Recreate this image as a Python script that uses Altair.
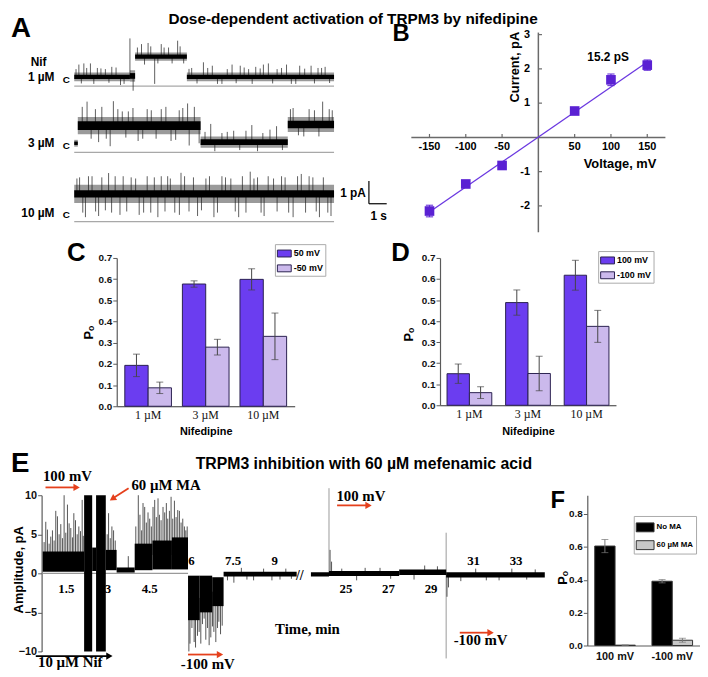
import altair as alt
import pandas as pd

SANS = "Liberation Sans"
SERIF = "Liberation Serif"
DARK = "#6b3df0"
LIGHT = "#cbb9ec"
EDGE = "#2b2150"
PTS = "#5a21d3"
RED = "#e5401c"
AXC = "#5a5a5a"
RECT = "M-1,-0.5L1,-0.5L1,0.5L-1,0.5Z"

# ===================== DATA =====================
# Panel A: single-channel traces (time s, current pA relative to closed level C)
nif_labels = ["1 µM", "3 µM", "10 µM"]

a1_t0 = [0.0, 3.13, 3.42, 6.33]
a1_t1 = [3.13, 3.42, 6.33, 14.6]
a1_lo = [-0.18, -0.20, 0.72, -0.18]
a1_hi = [0.20, 0.30, 1.08, 0.20]
a1_spk_t = [0.26, 0.54, 0.91, 1.30, 1.75, 2.11, 2.60, 3.13, 3.31, 3.78, 4.15, 4.52, 4.89, 5.30, 5.81, 6.60,
            7.26, 7.76, 8.30, 8.87, 9.33, 9.80, 10.20, 10.63, 10.91, 11.40, 11.93, 12.20, 12.67, 13.31, 13.70, 14.10,
            0.10, 0.40, 0.70, 1.10, 1.50, 1.95, 2.35, 2.80, 6.45, 6.90, 7.50, 8.05, 8.60, 9.10, 9.55, 10.00,
            10.45, 11.15, 11.65, 12.45, 12.95, 13.50, 13.90, 14.35,
            3.55, 3.95, 4.30, 4.70, 5.05, 5.50, 5.95, 6.15]
a1_spk_v = [0.55, 0.60, 0.60, 0.40, 0.35, 0.45, -0.35, 1.70, -0.60, 1.45, 1.50, -0.30, 1.45, 1.30, 1.60, 0.40,
            0.65, 0.50, -0.30, 0.55, 0.50, 0.35, 0.45, 0.55, 0.60, 0.35, 0.55, -0.30, 0.50, 0.50, 0.40, 0.45,
            0.35, -0.28, 0.40, -0.30, 0.38, -0.25, 0.42, -0.30, 0.36, -0.28, 0.40, -0.30, 0.35, -0.27, 0.42, -0.30,
            0.38, -0.28, 0.40, -0.30, 0.37, -0.28, 0.40, -0.26,
            1.30, 0.55, 1.35, 0.60, 1.30, 0.60, 1.35, 0.60]

a2_t0 = [0.0, 0.2, 7.1, 12.0]
a2_t1 = [0.2, 7.1, 12.0, 14.6]
a2_lo = [-0.15, 0.40, -0.20, 0.50]
a2_hi = [0.15, 1.15, 0.30, 1.15]
a2_spk_t = [0.72, 1.19, 1.37, 2.02, 2.20, 2.70, 3.04, 3.59, 4.33, 4.89, 5.44, 5.90, 6.37, 6.46, 7.02, 7.67,
            8.30, 8.96, 9.98, 10.60, 11.37, 12.30, 12.90, 13.50, 13.96, 14.33,
            0.45, 0.95, 1.55, 1.80, 2.45, 2.90, 3.30, 3.85, 4.10, 4.60, 5.15, 5.70, 6.10, 6.75,
            7.35, 7.90, 8.60, 9.30, 9.65, 10.30, 11.00, 11.70, 12.15, 12.60, 13.20, 13.75, 14.50]
a2_spk_v = [1.83, 1.50, 0.05, -0.13, 1.85, 1.40, 1.40, 0.10, 1.45, 1.50, 0.10, 1.45, 1.75, -0.10, 0.00, 0.85,
            0.45, 0.55, 0.80, 0.45, 0.75, 1.55, 0.30, 1.45, 1.83, 1.50,
            1.60, 0.20, 1.60, 0.20, 1.50, 0.25, 1.55, 0.20, 1.50, 0.20, 1.60, 0.15, 1.55, 1.60,
            0.50, -0.35, 0.50, -0.30, 0.55, -0.35, 0.60, -0.30, 1.50, 0.35, 1.50, 0.30, 1.45]

a3_t0 = [0.0]
a3_t1 = [14.6]
a3_lo = [0.42]
a3_hi = [1.22]
a3_spk_t = [0.30, 0.63, 1.00, 1.37, 1.93, 2.30, 2.57, 3.20, 3.90, 4.70, 4.89, 5.40, 5.91, 6.00, 6.93, 7.40,
            7.85, 8.30, 8.80, 9.24, 9.89, 10.30, 10.67, 11.20, 11.65, 12.30, 12.76, 13.41, 13.78, 14.43,
            0.15, 0.48, 0.80, 1.20, 1.55, 1.75, 2.10, 2.75, 2.95, 3.45, 3.65, 4.10, 4.30, 4.50, 5.10, 5.25,
            5.65, 6.20, 6.45, 6.70, 7.15, 7.60, 8.05, 8.50, 9.05, 9.45, 9.65, 10.10, 10.50, 10.90, 11.40,
            11.85, 12.05, 12.55, 13.00, 13.20, 13.60, 14.00, 14.25]
a3_spk_v = [1.55, -0.20, 1.60, -0.15, 1.74, 1.60, -0.10, 1.55, 0.00, -0.20, 1.60, 1.50, -0.10, 1.75, -0.15, 1.50,
            -0.20, 1.60, 1.50, -0.20, 1.80, 1.55, -0.15, 1.50, 1.60, -0.20, 1.70, 1.55, -0.20, -0.15,
            1.50, 0.00, 1.60, 0.05, 1.55, 0.10, 0.00, 1.60, 0.05, 1.50, -0.10, 1.60, 0.00, 1.55, 0.05, 1.60,
            0.00, 1.60, 0.05, 1.55, 0.10, 1.60, 0.00, 1.55, 0.05, 1.60, 0.00, 1.50, 0.00, 1.60, 0.05,
            1.55, 0.00, 1.60, 0.00, 1.60, 0.05, 1.55, 0.00]

# Panel B: I-V relation
b_volt = [-150, -100, -50, 50, 100, 150]
b_curr = [-2.15, -1.36, -0.82, 0.77, 1.68, 2.11]
b_err = [0.17, 0.05, 0.05, 0.04, 0.17, 0.15]
b_fit_v = [-150, 150]
b_fit_i = [-2.18, 2.20]
b_xticks = [-150, -100, -50, 50, 100, 150]
b_yticks = [-2, -1, 1, 2, 3]

# Panels C, D: open probability
conc = ["1 µM", "3 µM", "10 µM"]
c_series = ["50 mV", "-50 mV"]
c_po_pos = [0.193, 0.577, 0.599]
c_err_pos = [0.053, 0.015, 0.050]
c_po_neg = [0.087, 0.279, 0.330]
c_err_neg = [0.027, 0.037, 0.110]
d_series = ["100 mV", "-100 mV"]
d_po_pos = [0.150, 0.488, 0.618]
d_err_pos = [0.046, 0.060, 0.071]
d_po_neg = [0.060, 0.151, 0.375]
d_err_neg = [0.028, 0.082, 0.076]
po_ticks = [0.0, 0.1, 0.2, 0.3, 0.4, 0.5, 0.6, 0.7]

# Panel E: macroscopic recording (time min, amplitude pA)
e1_t0 = [0.65, 2.14, 2.43, 2.57, 2.92, 3.31, 3.96, 4.60, 5.30, 5.88, 6.30, 6.75, 7.16]
e1_t1 = [2.14, 2.43, 2.57, 2.92, 3.31, 3.96, 4.60, 5.30, 5.88, 6.30, 6.75, 7.16, 9.79]
e1_lo = [0.2, -10.0, 0.3, -10.0, 0.4, 0.1, 0.4, 0.5, 0.5, -6.0, -5.0, -4.2, -0.42]
e1_hi = [2.8, 10.0, 3.3, 10.0, 3.0, 0.75, 3.8, 4.2, 4.6, -0.3, -0.3, -0.5, 0.2]
e1_spk_t = [0.82, 0.94, 1.18, 1.30, 1.42, 1.60, 1.77, 1.95, 2.07, 3.02, 3.14, 3.73, 4.09, 4.32, 4.50, 4.68,
            4.85, 4.98, 5.15, 5.27, 5.51, 5.75, 5.91, 6.10, 6.28, 6.46, 6.64, 6.81, 6.99, 7.11, 7.53, 8.24, 9.19,
            0.70, 0.76, 0.88, 1.00, 1.06, 1.12, 1.24, 1.36, 1.48, 1.54, 1.66, 1.72, 1.83, 1.89, 2.01, 2.11,
            2.97, 3.08, 3.20, 3.26,
            4.00, 4.15, 4.21, 4.26, 4.38, 4.44, 4.56, 4.62, 4.74, 4.80, 4.91, 5.04, 5.10, 5.21, 5.33, 5.39,
            5.45, 5.57, 5.63, 5.69, 5.80, 5.85,
            5.95, 6.02, 6.15, 6.22, 6.34, 6.40, 6.52, 6.58, 6.70, 6.76, 6.88, 6.94, 7.05,
            7.30, 7.80, 8.00, 8.60, 8.90, 9.40, 9.60]
e1_spk_v = [5.6, 4.7, 7.3, 6.3, 10.0, 6.4, 7.7, 6.0, 9.4, 7.7, 6.0, 2.2, 10.0, 8.5, 7.0, 9.4,
            7.5, 8.5, 7.0, 9.8, 8.1, 6.0, -10.0, -8.8, -7.5, -5.8, -9.2, -7.5, -6.2, -6.7, -1.2, -0.9, -0.8,
            4.0, 6.6, 3.8, 5.5, 4.2, 8.0, 5.0, 4.5, 5.2, 8.8, 5.8, 4.6, 6.8, 5.0, 5.4, 4.8,
            5.0, 4.5, 5.5, 4.2,
            6.0, 7.5, 5.5, 9.0, 6.5, 7.8, 6.0, 8.5, 7.2, 9.6, 6.8, 7.8, 9.0, 8.0, 7.0, 9.3,
            7.2, 8.0, 6.5, 7.0, 5.5, 6.0,
            -9.0, -7.0, -9.5, -8.0, -9.0, -6.5, -8.5, -7.0, -8.2, -6.8, -8.8, -7.0, -7.8,
            -0.9, 0.7, -0.8, 0.6, -0.9, 0.6, -0.7]
e1_time_labels = [1.5, 3, 4.5, 6, 7.5, 9]

e2_t0 = [23.35, 24.20, 27.50, 29.71]
e2_t1 = [24.20, 27.50, 29.71, 34.35]
e2_lo = [-0.40, -0.35, -0.20, -0.55]
e2_hi = [0.15, 0.30, 0.50, 0.15]
e2_tr_t = [24.20, 29.71]
e2_tr_lo = [0.0, -10.9]
e2_tr_hi = [10.9, 5.2]
e2_spk_t = [24.25, 24.32, 25.50, 26.60, 28.20, 29.30, 29.75, 29.82, 31.60, 32.80, 33.50,
            24.80, 25.90, 27.10, 28.70, 30.40, 31.10, 32.20, 33.90]
e2_spk_v = [3.0, 1.5, -0.9, 0.7, -0.8, 0.9, -3.0, -1.8, -0.9, 0.6, -0.8,
            0.6, 0.7, -0.7, 1.0, -1.0, 0.6, -0.9, 0.5]
e2_time_labels = [25, 27, 29, 31, 33]
amp_ticks = [-10, -5, 0, 5, 10]

# Panel F
f_groups = ["100 mV", "-100 mV"]
f_series = ["No MA", "60 µM MA"]
f_po_no = [0.605, 0.391]
f_err_no = [0.040, 0.010]
f_po_ma = [0.002, 0.032]
f_err_ma = [0.0, 0.012]
f_ticks = [0.0, 0.2, 0.4, 0.6, 0.8]


# ===================== HELPERS =====================
def qx(f, sc):
    return alt.X(f, type="quantitative", scale=sc, axis=None)


def qy(f, sc, axis=None):
    return alt.Y(f, type="quantitative", scale=sc, axis=axis)


def seg_df(t0, t1, lo, hi, off=0.0, core=0.5):
    df = pd.DataFrame({"t0": t0, "t1": t1, "lo": lo, "hi": hi})
    df["lo"] = df["lo"] + off
    df["hi"] = df["hi"] + off
    mid = (df["lo"] + df["hi"]) / 2
    half = (df["hi"] - df["lo"]) / 2
    df["clo"] = mid - core * half
    df["chi"] = mid + core * half
    return df


def spike_df(ts, vs, t0, t1, lo, hi, off=0.0):
    base = []
    for t in ts:
        b = 0.0
        for a, c, l, h in zip(t0, t1, lo, hi):
            if a <= t <= c:
                b = (l + h) / 2
                break
        base.append(b + off)
    return pd.DataFrame({"t": ts, "base": base, "tip": [v + off for v in vs]})


def text_layer(rows, xs, ys, yaxis=None, **kw):
    df = pd.DataFrame(rows, columns=["x", "y", "s"])
    return alt.Chart(df).mark_text(**kw).encode(x=qx("x", xs), y=qy("y", ys, yaxis), text="s:N")


def rule_layer(rows, xs, ys, yaxis=None, **kw):
    df = pd.DataFrame(rows, columns=["x0", "x1", "y0", "y1"])
    return alt.Chart(df).mark_rule(**kw).encode(x=qx("x0", xs), x2="x1", y=qy("y0", ys, yaxis), y2="y1")


def head_layer(rows, xs, ys, yaxis=None, shape="triangle-right", color=RED, angle=0, size=55):
    df = pd.DataFrame(rows, columns=["x", "y"])
    return alt.Chart(df).mark_point(shape=shape, filled=True, color=color, size=size, opacity=1,
                                    angle=angle).encode(x=qx("x", xs), y=qy("y", ys, yaxis))


def spacer(w, h):
    return alt.Chart(pd.DataFrame({"s": [0]})).mark_point(opacity=0).encode(
        x=alt.value(0), y=alt.value(0)).properties(width=w, height=h)


# ===================== PANEL A =====================
A_OFF = [0.0, -2.91, -5.96]
xA = alt.Scale(domain=[-3.556, 18.222], nice=False, zero=False)
yA = alt.Scale(domain=[-6.52, 1.957], nice=False, zero=False)

segA = pd.concat([
    seg_df(a1_t0, a1_t1, a1_lo, a1_hi, A_OFF[0]),
    seg_df(a2_t0, a2_t1, a2_lo, a2_hi, A_OFF[1]),
    seg_df(a3_t0, a3_t1, a3_lo, a3_hi, A_OFF[2], core=0.4),
])
spkA = pd.concat([
    spike_df(a1_spk_t, a1_spk_v, a1_t0, a1_t1, a1_lo, a1_hi, A_OFF[0]),
    spike_df(a2_spk_t, a2_spk_v, a2_t0, a2_t1, a2_lo, a2_hi, A_OFF[1]),
    spike_df(a3_spk_t, a3_spk_v, a3_t0, a3_t1, a3_lo, a3_hi, A_OFF[2]),
])
baseA = pd.DataFrame({"t0": [0.0] * 3, "t1": [14.6] * 3, "y": [o - 0.4 for o in A_OFF]})

chartA = alt.layer(
    alt.Chart(baseA).mark_rule(color="#a8a8a8", strokeWidth=1.2).encode(
        x=qx("t0", xA), x2="t1", y=qy("y", yA)),
    alt.Chart(segA).mark_rect(color="#9a9a9a").encode(x=qx("t0", xA), x2="t1", y=qy("lo", yA), y2="hi"),
    alt.Chart(spkA).mark_rule(color="#1a1a1a", strokeWidth=0.7).encode(
        x=qx("t", xA), y=qy("base", yA), y2="tip"),
    alt.Chart(segA).mark_rect(color="#000000").encode(x=qx("t0", xA), x2="t1", y=qy("clo", yA), y2="chi"),
    text_layer([[-1.11, o, s] for o, s in zip(A_OFF, nif_labels)], xA, yA,
               font=SANS, fontWeight="bold", fontSize=12, align="right", baseline="middle"),
    text_layer([[-2.0, 0.65, "Nif"]], xA, yA, font=SANS, fontWeight="bold", fontSize=12,
               align="center", baseline="middle"),
    text_layer([[-0.44, o - 0.12, "C"] for o in A_OFF], xA, yA, font=SANS, fontWeight="bold",
               fontSize=10, align="center", baseline="middle"),
    rule_layer([[16.56, 16.56, -5.57, -4.57], [16.56, 17.56, -5.57, -5.57]], xA, yA,
               color="#000", strokeWidth=1.2),
    text_layer([[16.39, -5.09, "1 pA"]], xA, yA, font=SANS, fontWeight="bold", fontSize=12,
               align="right", baseline="middle"),
    text_layer([[17.11, -6.09, "1 s"]], xA, yA, font=SANS, fontWeight="bold", fontSize=12,
               align="center", baseline="middle"),
    text_layer([[-3.556, 2.09, "A"]], xA, yA, font=SANS, fontWeight="bold", fontSize=28,
               align="left", baseline="middle"),
    text_layer([[15.67, 2.565, "Dose-dependent activation of TRPM3 by nifedipine"]], xA, yA,
               font=SANS, fontWeight="bold", fontSize=15.5, align="center", baseline="middle"),
).properties(width=392, height=195)

# ===================== PANEL B =====================
xB = alt.Scale(domain=[-175, 175], nice=False, zero=False)
yB = alt.Scale(domain=[-2.77, 3.06], nice=False, zero=False)
dfB = pd.DataFrame({"v": b_volt, "i": b_curr, "e": b_err})
dfB["lo"] = dfB["i"] - dfB["e"]
dfB["hi"] = dfB["i"] + dfB["e"]
dfB["c0"] = dfB["v"] - 5
dfB["c1"] = dfB["v"] + 5
dfFit = pd.DataFrame({"v": b_fit_v, "i": b_fit_i})

chartB = alt.layer(
    rule_layer([[-175, 175, 0, 0], [0, 0, -2.77, 3.06]], xB, yB, color="#6a6a6a", strokeWidth=1.5),
    rule_layer([[0, 5, t, t] for t in b_yticks], xB, yB, color="#6a6a6a", strokeWidth=1.2),
    rule_layer([[t, t, 0, 0.1] for t in b_xticks], xB, yB, color="#6a6a6a", strokeWidth=1.2),
    alt.Chart(dfFit).mark_line(color="#6a37e0", strokeWidth=1.3).encode(x=qx("v", xB), y=qy("i", yB)),
    alt.Chart(dfB).mark_rule(color=PTS, strokeWidth=1).encode(x=qx("v", xB), y=qy("lo", yB), y2="hi"),
    alt.Chart(dfB).mark_rule(color=PTS, strokeWidth=1).encode(x=qx("c0", xB), x2="c1", y=qy("lo", yB)),
    alt.Chart(dfB).mark_rule(color=PTS, strokeWidth=1).encode(x=qx("c0", xB), x2="c1", y=qy("hi", yB)),
    alt.Chart(dfB).mark_square(color=PTS, size=95, opacity=1).encode(x=qx("v", xB), y=qy("i", yB)),
    text_layer([[t, -0.29, str(t)] for t in b_xticks], xB, yB, font=SANS, fontWeight="bold",
               fontSize=11, align="center", baseline="middle"),
    text_layer([[-11.6, t, str(t)] for t in b_yticks], xB, yB, font=SANS, fontWeight="bold",
               fontSize=11, align="right", baseline="middle"),
    text_layer([[-32, 2.05, "Current, pA"]], xB, yB, font=SANS, fontWeight="bold", fontSize=13,
               align="center", baseline="middle", angle=270),
    text_layer([[112.5, -0.78, "Voltage, mV"]], xB, yB, font=SANS, fontWeight="bold", fontSize=13,
               align="center", baseline="middle"),
    text_layer([[96, 2.34, "15.2 pS"]], xB, yB, font=SANS, fontWeight="bold", fontSize=12,
               align="center", baseline="middle"),
    text_layer([[-189.3, 3.03, "B"]], xB, yB, font=SANS, fontWeight="bold", fontSize=24,
               align="center", baseline="middle"),
).properties(width=257, height=202)


# ===================== BAR PANELS =====================
def bar_panel(cats, series, va, ea, vb, eb, colors, W, H, ytop, yvals, pin, pout,
              leg_x, leg_y, sym_size, leg_fs, ttl_x, ttl_y, x_axis, letter, let_x, let_y,
              let_size, edge, err_col, ylabel_fs, yline=False):
    n = len(cats)
    df = pd.DataFrame({"cat": cats * 2, "ser": [series[0]] * n + [series[1]] * n,
                       "po": va + vb, "err": ea + eb})
    df["lo"] = df["po"] - df["err"]
    df["hi"] = df["po"] + df["err"]
    xs = alt.Scale(paddingInner=pin, paddingOuter=pout)
    osc = alt.Scale(paddingInner=0, paddingOuter=0)
    ys = alt.Scale(domain=[0, ytop], nice=False, zero=True)
    yaxis = alt.Axis(values=yvals, format=".1f", labelFont=SANS, labelFontWeight="bold",
                     labelFontSize=ylabel_fs, labelColor="#111", tickSize=4, tickColor=AXC,
                     domain=not yline, domainColor=AXC, domainWidth=1.2, labelPadding=1,
                     title="P\u2092", titleFont=SANS, titleFontSize=13, titleFontWeight="bold",
                     titleAngle=270, titleX=ttl_x, titleY=ttl_y, titleAlign="center",
                     titleBaseline="middle", grid=False)
    xo = alt.XOffset("ser:N", sort=series, scale=osc)
    xn = alt.X("cat:N", sort=cats, scale=xs, axis=x_axis)
    bars = alt.Chart(df).mark_bar(stroke=edge, strokeWidth=1, opacity=1).encode(
        x=xn,
        xOffset=xo,
        y=alt.Y("po:Q", scale=ys, axis=yaxis),
        color=alt.Color("ser:N", sort=series, scale=alt.Scale(domain=series, range=colors),
                        legend=alt.Legend(orient="none", legendX=leg_x, legendY=leg_y, title=None,
                                          symbolType=RECT, symbolSize=sym_size, symbolStrokeColor=edge,
                                          symbolStrokeWidth=1, symbolOpacity=1, labelFont=SANS,
                                          labelFontWeight="bold", labelFontSize=leg_fs, labelOffset=2,
                                          strokeColor="#aaaaaa", fillColor="white", padding=2,
                                          rowPadding=2)),
    )
    err = alt.Chart(df).mark_rule(color=err_col, strokeWidth=1).encode(
        x=xn, xOffset=xo, y=alt.Y("lo:Q", scale=ys, axis=yaxis), y2="hi:Q")
    cap_hi = alt.Chart(df).mark_tick(color=err_col, size=7, thickness=1).encode(
        x=xn, xOffset=xo, y=alt.Y("hi:Q", scale=ys, axis=yaxis))
    cap_lo = alt.Chart(df).mark_tick(color=err_col, size=7, thickness=1).encode(
        x=xn, xOffset=xo, y=alt.Y("lo:Q", scale=ys, axis=yaxis))
    let = alt.Chart(pd.DataFrame({"s": [letter]})).mark_text(
        font=SANS, fontWeight="bold", fontSize=let_size, align="center", baseline="middle").encode(
        x=alt.value(let_x), y=alt.value(let_y), text="s:N")
    layers = [bars, err, cap_hi, cap_lo, let]
    if yline:
        ln = alt.Chart(pd.DataFrame({"a": [yvals[0]], "b": [yvals[-1]]})).mark_rule(
            color=AXC, strokeWidth=1.2).encode(x=alt.value(0), y=alt.Y("a:Q", scale=ys, axis=yaxis), y2="b:Q")
        layers.append(ln)
    return alt.layer(*layers).properties(width=W, height=H)


def nif_axis(ty):
    return alt.Axis(title="Nifedipine", titleFont=SANS, titleFontWeight="bold", titleFontSize=11,
                    titleY=ty, titleBaseline="middle", labelFont=SERIF, labelFontSize=12,
                    labelColor="#111", labelAngle=0, labelPadding=3, ticks=False, tickSize=0,
                    domainColor="#333333", domainWidth=1.2, grid=False)


chartC = bar_panel(conc, c_series, c_po_pos, c_err_pos, c_po_neg, c_err_neg, [DARK, LIGHT],
                   180, 150, 0.7, po_ticks, 0.19, 0.14, 160, -14, 196, 9, -29, 75,
                   nif_axis(26), "C", -41, -5, 26, EDGE, "#444444", 10)
chartD = bar_panel(conc, d_series, d_po_pos, d_err_pos, d_po_neg, d_err_neg, [DARK, LIGHT],
                   178, 149, 0.7, po_ticks, 0.236, 0.12, 160, -7, 196, 9, -32, 77,
                   nif_axis(27), "D", -40, -5, 26, EDGE, "#444444", 10)
f_axis = alt.Axis(title=None, labelFont=SANS, labelFontWeight="bold", labelFontSize=11, labelColor="#111",
                  labelAngle=0, labelPadding=5, ticks=False, tickSize=0, domainColor=AXC,
                  domainWidth=1.2, grid=False)
chartF = bar_panel(f_groups, f_series, f_po_no, f_err_no, f_po_ma, f_err_ma, ["#000000", "#c8c8c8"],
                   114, 152, 0.8 * 152 / 133, f_ticks, 0.29, 0.13, 47, 21, 324, 8, -25, 83,
                   f_axis, "F", -30, 6, 24, "#333333", "#777777", 10)

# ===================== PANEL E =====================
xE1 = alt.Scale(domain=[0.61, 9.79], nice=False, zero=False)
xE2 = alt.Scale(domain=[23.33, 34.35], nice=False, zero=False)
yE = alt.Scale(domain=[-10, 10], nice=False, zero=False)

segE1 = seg_df(e1_t0, e1_t1, e1_lo, e1_hi)
spkE1 = spike_df(e1_spk_t, e1_spk_v, e1_t0, e1_t1, e1_lo, e1_hi)
EAX = alt.Axis(values=amp_ticks, labelFont=SANS, labelFontWeight="bold", labelFontSize=11,
               labelColor="#111", tickSize=4, tickColor=AXC, domainColor=AXC, domainWidth=1.2,
               labelPadding=1, title="Amplitude, pA", titleFont=SANS, titleFontWeight="bold",
               titleFontSize=13, titleAngle=270, titleX=-23, titleY=75, titleAlign="center",
               titleBaseline="middle", grid=False)
ser_b = dict(font=SERIF, fontWeight="bold", fontSize=15, align="center", baseline="middle")
num_b = dict(font=SERIF, fontWeight="bold", fontSize=13, align="center", baseline="middle")

chartE1 = alt.layer(
    rule_layer([[0.65, 5.88, 0, 0]], xE1, yE, EAX, color="#9a9a9a", strokeWidth=1.2),
    alt.Chart(spkE1).mark_rule(color="#2a2a2a", strokeWidth=0.8).encode(
        x=qx("t", xE1), y=qy("base", yE, EAX), y2="tip"),
    alt.Chart(segE1).mark_rect(color="#000000").encode(
        x=qx("t0", xE1), x2="t1", y=qy("lo", yE, EAX), y2="hi"),
    text_layer([[t, -2.03 if t < 5 else 1.52, f"{t:g}"] for t in e1_time_labels], xE1, yE, EAX, **num_b),
    text_layer([[9.9, -0.3, "//"]], xE1, yE, EAX, font=SERIF, fontWeight="bold", fontSize=14,
               align="center", baseline="middle"),
    text_layer([[1.54, 12.4, "100 mV"]], xE1, yE, EAX, **ser_b),
    rule_layer([[0.75, 1.80, 11.0, 11.0]], xE1, yE, EAX, color=RED, strokeWidth=1.8),
    head_layer([[1.87, 11.0]], xE1, yE, EAX),
    text_layer([[5.09, 11.27, "60 µM MA"]], xE1, yE, EAX, **ser_b),
    rule_layer([[3.74, 3.22, 10.9, 9.7]], xE1, yE, EAX, color=RED, strokeWidth=1.8),
    head_layer([[3.16, 9.55]], xE1, yE, EAX, shape="triangle-up", angle=237),
    text_layer([[1.64, -11.39, "10 µM Nif"]], xE1, yE, EAX, **ser_b),
    rule_layer([[0.40, 3.0, -10.6, -10.6]], xE1, yE, EAX, color="#000", strokeWidth=1.8),
    head_layer([[3.05, -10.6]], xE1, yE, EAX, color="#000"),
    text_layer([[6.59, -11.6, "-100 mV"]], xE1, yE, EAX, **ser_b),
    rule_layer([[5.88, 6.97, -10.4, -10.4]], xE1, yE, EAX, color=RED, strokeWidth=1.8),
    head_layer([[7.03, -10.4]], xE1, yE, EAX),
    text_layer([[10.18, -7.1, "Time, min"]], xE1, yE, EAX, **ser_b),
    text_layer([[-0.493, 14.05, "E"]], xE1, yE, EAX, font=SANS, fontWeight="bold", fontSize=28,
               align="left", baseline="middle"),
    text_layer([[12.21, 14.05, "TRPM3 inhibition with 60 µM mefenamic acid"]], xE1, yE, EAX,
               font=SANS, fontWeight="bold", fontSize=16, align="center", baseline="middle"),
).properties(width=258, height=158)

segE2 = seg_df(e2_t0, e2_t1, e2_lo, e2_hi)
spkE2 = spike_df(e2_spk_t, e2_spk_v, e2_t0, e2_t1, e2_lo, e2_hi)
trE2 = pd.DataFrame({"t": e2_tr_t, "lo": e2_tr_lo, "hi": e2_tr_hi})

chartE2 = alt.layer(
    alt.Chart(trE2).mark_rule(color="#9a9a9a", strokeWidth=1).encode(
        x=qx("t", xE2), y=qy("lo", yE), y2="hi"),
    alt.Chart(spkE2).mark_rule(color="#2a2a2a", strokeWidth=0.8).encode(
        x=qx("t", xE2), y=qy("base", yE), y2="tip"),
    alt.Chart(segE2).mark_rect(color="#000000").encode(x=qx("t0", xE2), x2="t1", y=qy("lo", yE), y2="hi"),
    text_layer([[t, -2.03 if t < 30 else 1.52, f"{t:g}"] for t in e2_time_labels], xE2, yE, **num_b),
    text_layer([[25.70, 9.87, "100 mV"]], xE2, yE, **ser_b),
    rule_layer([[24.58, 25.98, 8.7, 8.7]], xE2, yE, color=RED, strokeWidth=1.8),
    head_layer([[26.06, 8.7]], xE2, yE),
    text_layer([[31.33, -8.6, "-100 mV"]], xE2, yE, **ser_b),
    rule_layer([[30.35, 31.72, -7.6, -7.6]], xE2, yE, color=RED, strokeWidth=1.8),
    head_layer([[31.80, -7.6]], xE2, yE),
).properties(width=237, height=158)

# ===================== LAYOUT =====================
row1 = alt.hconcat(chartA, spacer(13, 1), chartB, spacing=0, bounds="flush")
row2 = alt.hconcat(spacer(107, 1), chartC, spacer(147, 1), chartD, spacing=0,
                   bounds="flush").resolve_scale(color="independent", xOffset="independent")
row3 = alt.hconcat(spacer(31, 1), chartE1, spacer(14, 1), chartE2, spacer(43, 1), chartF,
                   spacing=0, bounds="flush").resolve_scale(color="independent", xOffset="independent")

chart = alt.vconcat(
    row1, spacer(1, 4), row2, spacer(1, 10), row3, spacing=0,
).resolve_scale(
    color="independent", xOffset="independent"
).configure_view(stroke=None).configure_axis(grid=False).properties(padding=0, background="white")

chart.save("out.html", embed_options={"renderer": "svg", "actions": False})
